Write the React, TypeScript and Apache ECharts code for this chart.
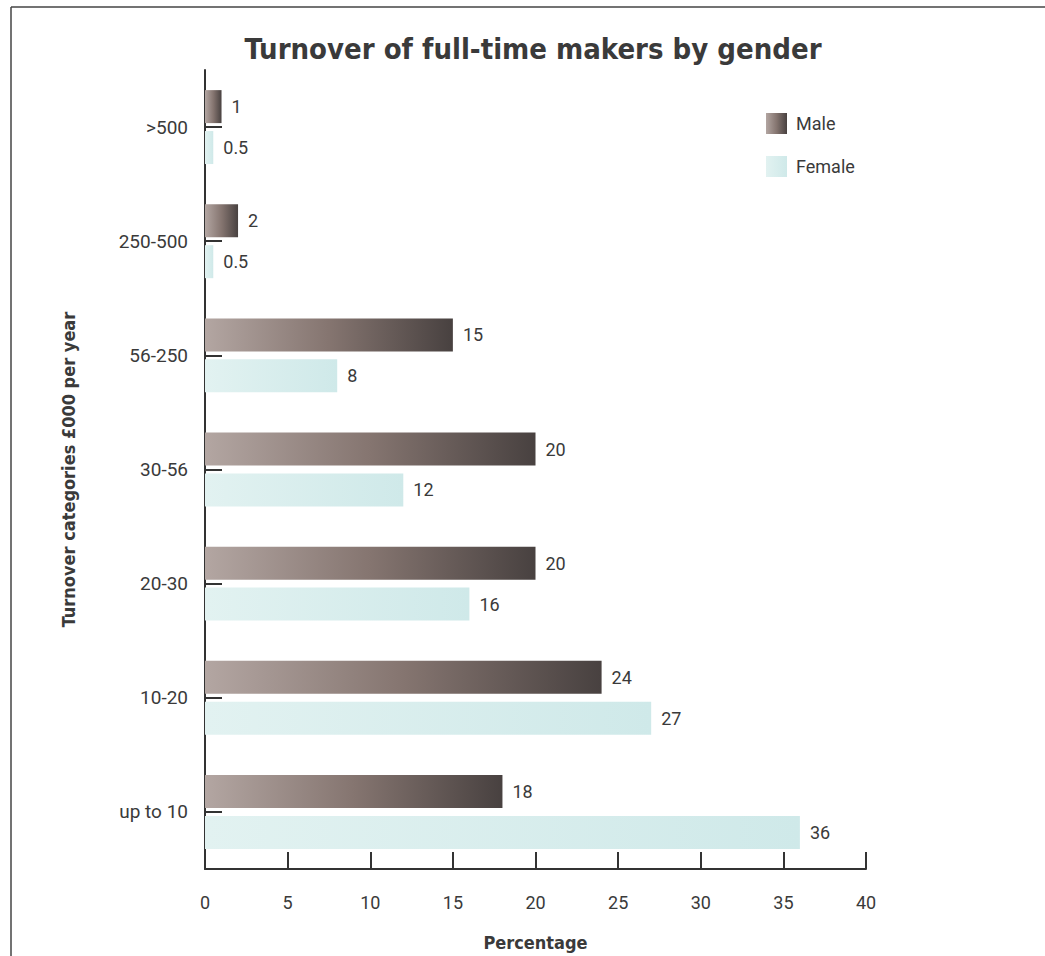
import React, { useEffect, useRef } from "react";
import * as echarts from "echarts";

const categories = [">500", "250-500", "56-250", "30-56", "20-30", "10-20", "up to 10"];
const maleValues = [1, 2, 15, 20, 20, 24, 18];
const femaleValues = [0.5, 0.5, 8, 12, 16, 27, 36];
const xTicks = { min: 0, max: 40, interval: 5 };

const narrow = "'Liberation Sans Narrow', 'Roboto', sans-serif";
const boldFont = "'DejaVu Sans Condensed', 'DejaVu Sans', sans-serif";
const ink = "#3a3a3a";

const maleGradient = new echarts.graphic.LinearGradient(0, 0, 1, 0, [
  { offset: 0, color: "#b3a6a2" },
  { offset: 0.5, color: "#857570" },
  { offset: 1, color: "#484140" },
]);
const femaleGradient = new echarts.graphic.LinearGradient(0, 0, 1, 0, [
  { offset: 0, color: "#e2f2f1" },
  { offset: 1, color: "#cfe9e9" },
]);

export default function App() {
  const ref = useRef<HTMLDivElement>(null);

  useEffect(() => {
    if (!ref.current) return;
    const chart = echarts.init(ref.current, undefined, { renderer: "svg" });
    chart.setOption({
      animation: false,
      backgroundColor: "#ffffff",
      title: {
        text: "Turnover of full-time makers by gender",
        left: 528,
        top: 29,
        textAlign: "center",
        textStyle: { fontFamily: boldFont, fontWeight: "bold", fontSize: 29, color: ink },
      },
      legend: {
        orient: "vertical",
        left: 761,
        top: 108,
        itemWidth: 21,
        itemHeight: 21,
        itemGap: 22,
        icon: "rect",
        textStyle: { fontFamily: narrow, fontSize: 18, color: ink, padding: [0, 0, 0, 4] },
        data: ["Male", "Female"],
      },
      graphic: [
        { type: "line", shape: { x1: 11, y1: 7, x2: 1045, y2: 7 }, style: { stroke: "#444", lineWidth: 1.5 } },
        { type: "line", shape: { x1: 11, y1: 7, x2: 11, y2: 956 }, style: { stroke: "#444", lineWidth: 1.5 } },
      ],
      grid: { left: 205, right: 179, top: 70, bottom: 85, containLabel: false },
      xAxis: {
        type: "value",
        min: xTicks.min,
        max: xTicks.max,
        interval: xTicks.interval,
        name: "Percentage",
        nameLocation: "middle",
        nameGap: 64,
        nameTextStyle: { fontFamily: boldFont, fontWeight: "bold", fontSize: 18, color: ink },
        axisLine: { show: true, lineStyle: { color: "#333", width: 2 } },
        axisTick: { show: true, inside: true, length: 17, lineStyle: { color: "#333", width: 2 } },
        axisLabel: { fontFamily: narrow, fontSize: 18, color: ink, margin: 24 },
        splitLine: { show: false },
      },
      yAxis: {
        type: "category",
        data: categories,
        inverse: true,
        name: "Turnover categories £000 per year",
        nameLocation: "middle",
        nameGap: 128,
        nameRotate: 90,
        nameTextStyle: { fontFamily: boldFont, fontWeight: "bold", fontSize: 18, color: ink },
        axisLine: { show: true, lineStyle: { color: "#333", width: 2 } },
        axisTick: { show: true, inside: true, alignWithLabel: true, length: 17, lineStyle: { color: "#333", width: 2 } },
        axisLabel: { fontFamily: narrow, fontSize: 19, color: ink, margin: 17 },
      },
      series: [
        {
          name: "Male",
          type: "bar",
          data: maleValues,
          barWidth: 33,
          barGap: "24%",
          itemStyle: { color: maleGradient },
          label: { show: true, position: "right", distance: 10, fontFamily: narrow, fontSize: 18, color: ink },
          z: 3,
        },
        {
          name: "Female",
          type: "bar",
          data: femaleValues,
          barWidth: 33,
          barGap: "24%",
          itemStyle: { color: femaleGradient },
          label: { show: true, position: "right", distance: 10, fontFamily: narrow, fontSize: 18, color: ink },
          z: 3,
        },
      ],
    });
    return () => chart.dispose();
  }, []);

  return (
    <div
      ref={ref}
      style={{ position: "fixed", left: 0, top: 0, width: 1045, height: 956 }}
    />
  );
}
